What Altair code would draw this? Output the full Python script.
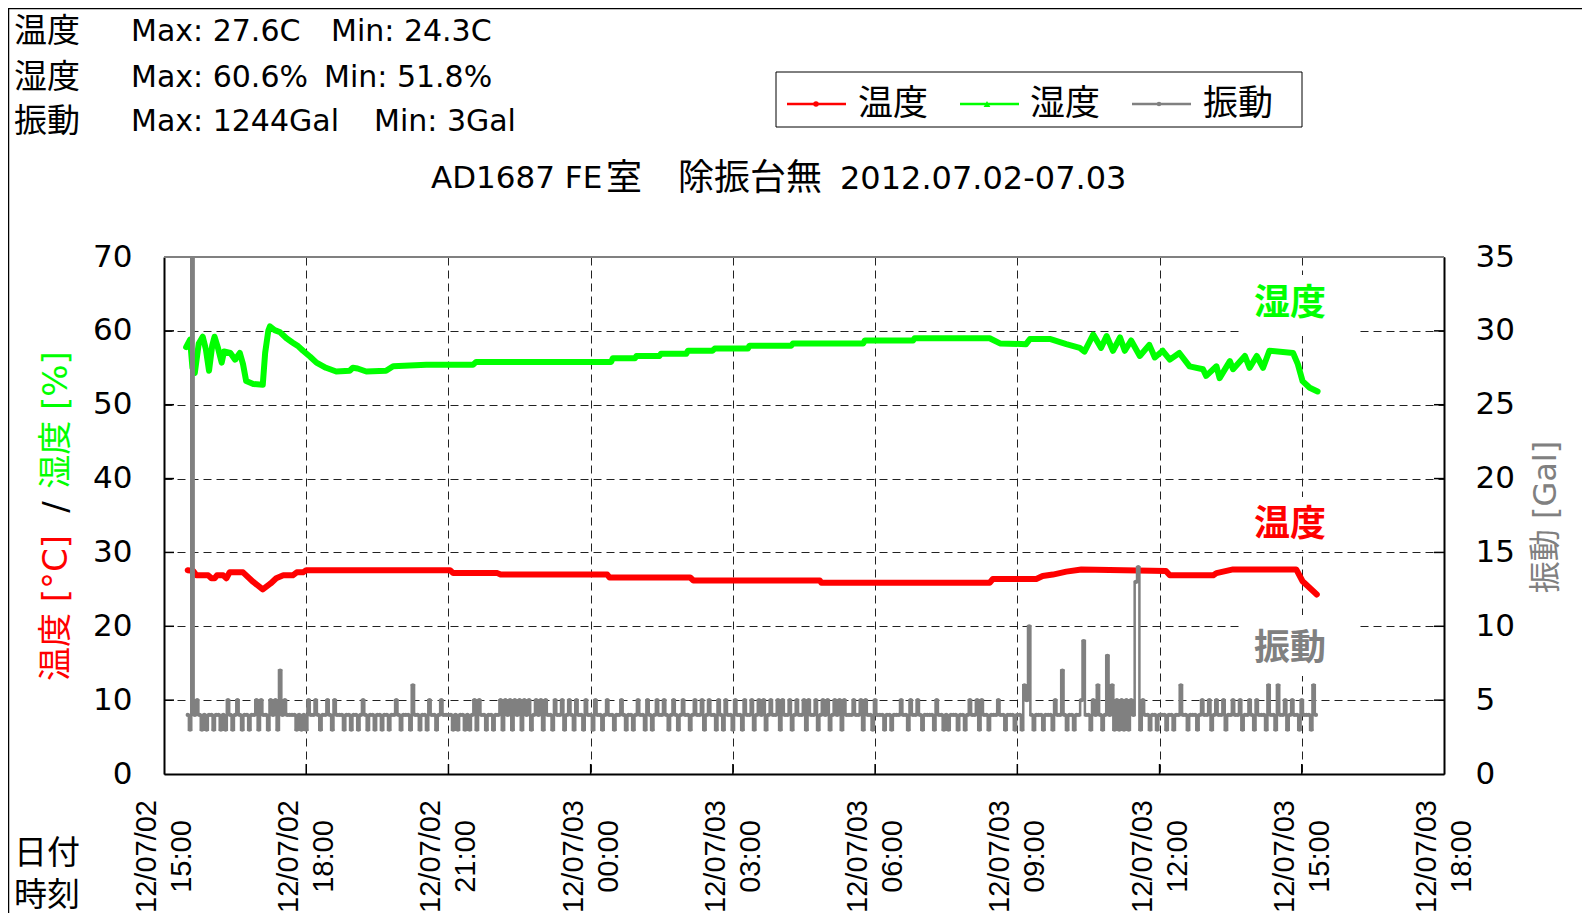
import altair as alt
import pandas as pd

# ---------------- data ----------------
# temperature [°C] : (day hh:mm) , value
temp_time = ["02 15:30", "02 15:37", "02 15:41", "02 15:56", "02 16:00", "02 16:04", "02 16:07",
             "02 16:15", "02 16:19", "02 16:23", "02 16:40", "02 16:53", "02 17:05", "02 17:15",
             "02 17:22", "02 17:31", "02 17:43", "02 17:48", "02 17:56", "02 18:00", "02 21:02",
             "02 21:06", "02 22:02", "02 22:06", "03 00:21", "03 00:24", "03 02:06", "03 02:10",
             "03 04:50", "03 04:52", "03 08:25", "03 08:29", "03 09:24", "03 09:32", "03 09:45",
             "03 10:02", "03 10:21", "03 12:08", "03 12:13", "03 13:08", "03 13:12", "03 13:33",
             "03 14:53", "03 15:01", "03 15:19"]
temp_val = [27.6, 27.5, 26.9, 26.9, 26.5, 26.5, 26.9,
            26.9, 26.5, 27.3, 27.3, 26.0, 25.0, 25.8,
            26.5, 26.9, 26.9, 27.3, 27.3, 27.6, 27.6,
            27.2, 27.2, 27.0, 27.0, 26.6, 26.6, 26.2,
            26.2, 25.9, 25.9, 26.4, 26.4, 26.8, 27.0,
            27.4, 27.7, 27.5, 26.9, 26.9, 27.2, 27.7,
            27.7, 26.1, 24.3]

# humidity [%]
hum_points = [
    ("02 15:28", 57.8), ("02 15:33", 58.8), ("02 15:36", 55.0), ("02 15:39", 54.3),
    ("02 15:44", 58.3), ("02 15:49", 59.2), ("02 15:53", 57.5), ("02 15:57", 54.6),
    ("02 16:01", 58.0), ("02 16:04", 59.2), ("02 16:08", 57.8), ("02 16:13", 55.7),
    ("02 16:16", 57.2), ("02 16:24", 57.0), ("02 16:30", 56.1), ("02 16:36", 57.0),
    ("02 16:40", 55.5), ("02 16:44", 53.2), ("02 16:53", 52.8), ("02 17:05", 52.7),
    ("02 17:08", 57.0), ("02 17:12", 60.0), ("02 17:14", 60.6), ("02 17:20", 60.1),
    ("02 17:27", 59.8), ("02 17:35", 59.0), ("02 17:43", 58.4), ("02 17:50", 57.9),
    ("02 17:56", 57.3), ("02 18:05", 56.5), ("02 18:13", 55.7), ("02 18:25", 55.0),
    ("02 18:38", 54.5), ("02 18:55", 54.6), ("02 18:59", 55.0), ("02 19:05", 54.9),
    ("02 19:16", 54.5), ("02 19:41", 54.6), ("02 19:50", 55.2), ("02 20:32", 55.4),
    ("02 21:31", 55.4), ("02 21:35", 55.8), ("03 00:26", 55.8), ("03 00:28", 56.3),
    ("03 00:56", 56.3), ("03 00:58", 56.6), ("03 01:27", 56.6), ("03 01:29", 56.9),
    ("03 02:01", 56.9), ("03 02:03", 57.3), ("03 02:34", 57.3), ("03 02:37", 57.6),
    ("03 03:19", 57.6), ("03 03:21", 58.0), ("03 04:14", 58.0), ("03 04:16", 58.3),
    ("03 05:45", 58.3), ("03 05:47", 58.7), ("03 06:48", 58.7), ("03 06:50", 59.0),
    ("03 08:25", 59.0), ("03 08:38", 58.3), ("03 09:11", 58.2), ("03 09:16", 58.9),
    ("03 09:41", 58.9), ("03 10:02", 58.2), ("03 10:19", 57.7), ("03 10:25", 57.2),
    ("03 10:36", 59.5), ("03 10:46", 57.7), ("03 10:53", 59.3), ("03 11:01", 57.3),
    ("03 11:10", 59.1), ("03 11:16", 57.3), ("03 11:24", 58.7), ("03 11:35", 56.6),
    ("03 11:47", 58.1), ("03 11:54", 56.4), ("03 12:04", 57.3), ("03 12:13", 56.1),
    ("03 12:25", 57.0), ("03 12:38", 55.2), ("03 12:55", 54.8), ("03 12:59", 53.9),
    ("03 13:12", 55.2), ("03 13:16", 53.6), ("03 13:29", 55.9), ("03 13:33", 54.8),
    ("03 13:48", 56.6), ("03 13:54", 55.0), ("03 14:03", 56.6), ("03 14:11", 55.0),
    ("03 14:19", 57.3), ("03 14:49", 57.0), ("03 14:55", 55.5), ("03 15:01", 53.2),
    ("03 15:10", 52.3), ("03 15:20", 51.8),
]

# vibration [Gal], one sample every 3 minutes, one list per hour (hh:30 .. hh+1:27)
vib_1530 = [4, 3, 1244, 4, 5, 4, 3, 4, 3, 4, 4, 3, 4, 4, 3, 4, 3, 5, 4, 3]
vib_1630 = [4, 5, 4, 3, 4, 4, 3, 4, 4, 5, 3, 5, 4, 4, 3, 5, 4, 5, 3, 7]
vib_1730 = [4, 5, 4, 4, 4, 4, 3, 4, 3, 4, 3, 5, 4, 4, 5, 4, 3, 4, 4, 5]
vib_1830 = [4, 3, 5, 4, 4, 4, 3, 4, 4, 3, 4, 4, 3, 4, 5, 4, 3, 4, 4, 3]
vib_1930 = [4, 4, 3, 4, 4, 3, 4, 4, 5, 4, 3, 4, 4, 4, 3, 6, 4, 4, 3, 4]
vib_2030 = [4, 3, 5, 4, 4, 3, 4, 5, 4, 4, 4, 4, 3, 4, 3, 4, 4, 3, 4, 3]
vib_2130 = [4, 5, 3, 5, 4, 4, 3, 4, 4, 3, 4, 4, 5, 3, 5, 4, 5, 3, 5, 4]
vib_2230 = [5, 3, 5, 4, 5, 3, 4, 5, 4, 5, 3, 5, 4, 4, 3, 5, 4, 4, 5, 3]
vib_2330 = [4, 5, 4, 3, 5, 4, 4, 3, 5, 4, 4, 3, 5, 4, 4, 3, 4, 5, 4, 4]
vib_0030 = [3, 4, 4, 5, 4, 3, 4, 4, 3, 4, 5, 4, 4, 3, 5, 4, 3, 4, 5, 4]
vib_0130 = [4, 5, 4, 3, 4, 5, 4, 3, 4, 5, 4, 4, 3, 4, 5, 4, 4, 5, 3, 4]
vib_0230 = [5, 4, 4, 3, 5, 4, 3, 5, 4, 4, 3, 5, 4, 4, 3, 5, 4, 4, 5, 3]
vib_0330 = [4, 5, 4, 5, 3, 4, 5, 4, 4, 5, 3, 5, 4, 4, 5, 3, 4, 5, 4, 4]
vib_0430 = [5, 3, 5, 4, 4, 5, 3, 4, 5, 4, 5, 3, 4, 5, 4, 5, 3, 5, 4, 4]
vib_0530 = [4, 5, 4, 4, 5, 3, 5, 4, 4, 3, 5, 4, 4, 4, 3, 4, 4, 3, 4, 4]
vib_0630 = [4, 5, 4, 4, 3, 5, 4, 4, 5, 4, 3, 4, 4, 4, 4, 3, 5, 4, 4, 3]
vib_0730 = [4, 3, 4, 4, 4, 3, 4, 4, 3, 4, 5, 4, 4, 5, 3, 5, 4, 4, 3, 4]
vib_0830 = [4, 4, 5, 4, 4, 3, 4, 4, 4, 3, 4, 4, 3, 6, 5, 10, 4, 3, 4, 4]
vib_0930 = [4, 3, 4, 4, 4, 3, 5, 4, 4, 7, 4, 3, 4, 4, 3, 4, 4, 5, 9, 4]
vib_1030 = [4, 3, 5, 4, 6, 4, 3, 4, 8, 4, 6, 3, 5, 3, 5, 3, 5, 3, 5, 4]
vib_1130 = [13, 14, 3, 5, 4, 4, 3, 4, 4, 3, 4, 4, 4, 3, 4, 4, 3, 4, 4, 6]
vib_1230 = [4, 4, 3, 4, 4, 4, 3, 4, 5, 4, 4, 5, 3, 4, 5, 4, 4, 5, 3, 4]
vib_1330 = [4, 5, 4, 4, 5, 3, 4, 4, 5, 4, 3, 5, 4, 4, 4, 3, 6, 4, 4, 3]
vib_1430 = [6, 4, 4, 5, 3, 4, 5, 4, 4, 3, 5, 4, 4, 4, 3, 6, 4]
vib_blocks = [vib_1530, vib_1630, vib_1730, vib_1830, vib_1930, vib_2030, vib_2130, vib_2230,
              vib_2330, vib_0030, vib_0130, vib_0230, vib_0330, vib_0430, vib_0530, vib_0630,
              vib_0730, vib_0830, vib_0930, vib_1030, vib_1130, vib_1230, vib_1330, vib_1430]

xtick_times = ["02 15:00", "02 18:00", "02 21:00", "03 00:00", "03 03:00",
               "03 06:00", "03 09:00", "03 12:00", "03 15:00", "03 18:00"]
left_ticks = [0, 10, 20, 30, 40, 50, 60, 70]
right_ticks = [0, 5, 10, 15, 20, 25, 30, 35]

stats_rows = [("温度", "Max: 27.6C", "Min: 24.3C"),
              ("湿度", "Max: 60.6%", "Min: 51.8%"),
              ("振動", "Max: 1244Gal", "Min: 3Gal")]
title_parts = ["AD1687 FE", "室", "除振台無", "2012.07.02-07.03"]
series_names = ["温度", "湿度", "振動"]

# ---------------- styling ----------------
RED, GREEN, GRAY = "#FF0000", "#00FF00", "#808080"
LAT = "DejaVu Sans, Noto Sans CJK JP"
W, H = 1280, 517


def iso(s):
    d, hm = s.split()
    return f"2012-07-{d}T{hm}:00"


def dt(s):
    d, hm = s.split()
    h, m = hm.split(":")
    return alt.DateTime(year=2012, month=7, date=int(d), hours=int(h), minutes=int(m))


temp_df = pd.DataFrame({"t": [iso(s) for s in temp_time], "v": temp_val})
hum_df = pd.DataFrame({"t": [iso(s) for s, _ in hum_points], "v": [v for _, v in hum_points]})
rows = []
for k, blk in enumerate(vib_blocks):
    start = pd.Timestamp("2012-07-02 15:30") + pd.Timedelta(hours=k)
    for i, g in enumerate(blk):
        rows.append({"t": (start + pd.Timedelta(minutes=3 * i)).strftime("%Y-%m-%dT%H:%M:%S"), "g": g})
vib_df = pd.DataFrame(rows)

grid_kw = dict(grid=True, gridDash=[8, 5], gridColor="#222222", gridWidth=1, gridOpacity=1)
x_axis = alt.Axis(values=[dt(s) for s in xtick_times],
                  labelExpr="[timeFormat(datum.value, '%y/%m/%d'), timeFormat(datum.value, '%H:%M')]",
                  labelAngle=270, labelAlign="center", labelBaseline="middle",
                  labelPadding=82, labelOffset=-17.5, labelLineHeight=35,
                  labelFont="Liberation Sans", labelFontSize=29, labelColor="black",
                  labelFlush=False, labelOverlap=False,
                  ticks=False, tickSize=0, domainColor="black", domainWidth=2, title=None,
                  **grid_kw)
yl_axis = alt.Axis(values=left_ticks, orient="left", labelFont=LAT, labelFontSize=31,
                   labelColor="black", labelPadding=32, labelFlush=False, labelOverlap=False,
                   ticks=False, tickSize=0, domainColor="black", domainWidth=2, title=None,
                   **grid_kw)
yr_axis = alt.Axis(values=right_ticks, orient="right", labelFont=LAT, labelFontSize=31,
                   labelColor="black", labelPadding=31, labelFlush=False, labelOverlap=False,
                   ticks=False, tickSize=0, domainColor="black", domainWidth=2, title=None,
                   grid=False)

X = alt.X("t:T", scale=alt.Scale(domain=[dt(xtick_times[0]), dt(xtick_times[-1])]), axis=x_axis)
YL = alt.Y("v:Q", scale=alt.Scale(domain=[0, 70], nice=False), axis=yl_axis)
YR = alt.Y("g:Q", scale=alt.Scale(domain=[0, 35], nice=False), axis=yr_axis)

base = pd.DataFrame({"k": [0]})


def text(s, x, y, size=30, color="black", align="left", angle=0, weight="normal", font=LAT):
    return alt.Chart(base).mark_text(text=s, fontSize=size, color=color, align=align,
                                     baseline="middle", angle=angle, fontWeight=weight,
                                     font=font).encode(x=alt.value(x), y=alt.value(y))


def hline(x1, x2, y, color, width):
    return alt.Chart(base).mark_rule(color=color, strokeWidth=width).encode(
        x=alt.value(x1), x2=alt.value(x2), y=alt.value(y))


def vline(x, y1, y2, color, width):
    return alt.Chart(base).mark_rule(color=color, strokeWidth=width).encode(
        x=alt.value(x), y=alt.value(y1), y2=alt.value(y2))


def box(x1, x2, y1, y2, stroke=False):
    kw = dict(fill="white")
    if stroke:
        kw.update(stroke="black", strokeWidth=1)
    return alt.Chart(base).mark_rect(**kw).encode(
        x=alt.value(x1), x2=alt.value(x2), y=alt.value(y1), y2=alt.value(y2))


def dot(x, y, shape, color, size):
    return alt.Chart(base).mark_point(shape=shape, filled=True, color=color, size=size,
                                      opacity=1).encode(x=alt.value(x), y=alt.value(y))


# inward tick marks
inner_y = pd.DataFrame({"v": left_ticks[1:-1]})
inner_x = pd.DataFrame({"t": [iso(s) for s in xtick_times[1:-1]]})
lt = alt.Chart(inner_y).mark_rule(color="black", strokeWidth=1.5).encode(y=YL, x=alt.value(0), x2=alt.value(10))
rt = alt.Chart(inner_y).mark_rule(color="black", strokeWidth=1.5).encode(y=YL, x=alt.value(W - 10), x2=alt.value(W))
bt = alt.Chart(inner_x).mark_rule(color="black", strokeWidth=1.5).encode(x=X, y=alt.value(H - 10), y2=alt.value(H))

temp = alt.Chart(temp_df).mark_line(color=RED, strokeWidth=6, strokeJoin="round",
                                    strokeCap="round", clip=True).encode(x=X, y=YL)
hum = alt.Chart(hum_df).mark_line(color=GREEN, strokeWidth=6, strokeJoin="round",
                                  strokeCap="round", clip=True).encode(x=X, y=YL)
left_layer = alt.layer(lt, rt, bt, temp, hum)

vib = alt.Chart(vib_df).mark_line(
    color=GRAY, strokeWidth=2.5, clip=True, interpolate="step",
    point=alt.OverlayMarkDef(filled=True, size=18, color=GRAY, clip=True, opacity=1)
).encode(x=X, y=YR)

layers = [
    # white boxes behind the in-plot series labels
    box(1076, 1195, 18, 79), box(1076, 1195, 240, 293), box(1076, 1195, 358, 419),
    left_layer, vib,
    hline(0, W, 0, GRAY, 2),
    # image border
    hline(-156, 1420, -248.5, "black", 1.5), vline(-155.5, -249, 660, "black", 1.5),
    # in-plot labels
    text(series_names[1], 1126, 47, 36, GREEN, "center", weight="bold"),
    text(series_names[0], 1126, 268, 36, RED, "center", weight="bold"),
    text(series_names[2], 1126, 392, 36, GRAY, "center", weight="bold"),
    # axis titles
    text("温度 [°C]", -107, 351, 34, RED, "center", angle=270),
    text("/", -107, 250, 34, "black", "center", angle=270),
    text("湿度 [%]", -107, 163, 34, GREEN, "center", angle=270),
    text("振動 [Gal]", 1382, 260, 32, GRAY, "center", angle=270),
    text("日付", -150, 597, 33),
    text("時刻", -150, 639, 33),
    # title
    text(title_parts[0], 267, -78.5, 31),
    text(title_parts[1], 442, -78.5, 36),
    text(title_parts[2], 514, -78.5, 36),
    text(title_parts[3], 676, -78.5, 32),
    # legend
    box(612, 1138, -185, -130, stroke=True),
    hline(623, 682, -153, RED, 2.5), dot(652, -153, "circle", RED, 30),
    text(series_names[0], 694, -153, 35),
    hline(796, 855, -153, GREEN, 2.5), dot(823, -153, "triangle-up", GREEN, 45),
    text(series_names[1], 866, -153, 35),
    hline(968, 1027, -153, GRAY, 2.5), dot(995, -153, "circle", GRAY, 20),
    text(series_names[2], 1039, -153, 35),
]

min_x = [167, 160, 210]
for r, (name, mx, mn) in enumerate(stats_rows):
    y = [-225, -179, -135][r]
    layers.append(text(name, -150, y, 33))
    layers.append(text(mx, -33, y, 30))
    layers.append(text(mn, min_x[r], y, 30))

chart = alt.layer(*layers).resolve_scale(y="independent").properties(
    width=W, height=H,
    padding={"left": 156, "top": 249, "right": 138, "bottom": 139},
    autosize=alt.AutoSizeParams(type="none"),
    background="white",
).configure_view(stroke=None).configure(font=LAT)

chart.save("out.html", embed_options={"renderer": "svg", "actions": False})
